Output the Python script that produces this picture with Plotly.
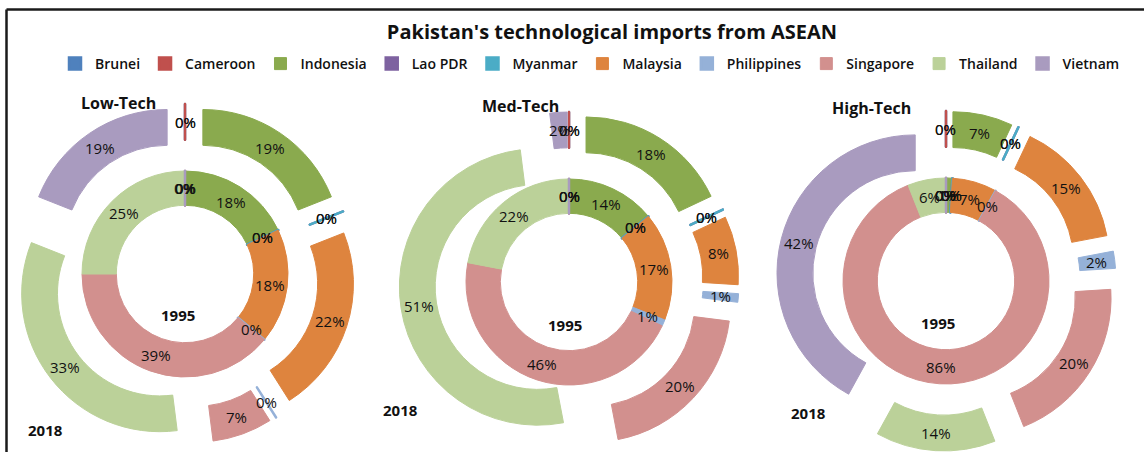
import math
import plotly.graph_objects as go

# ---------------- data ----------------
countries = ["Brunei", "Cameroon", "Indonesia", "Lao PDR", "Myanmar",
             "Malaysia", "Philippines", "Singapore", "Thailand", "Vietnam"]
low_1995 = [0, 0, 18, 0, 0, 18, 0, 39, 25, 0]
low_2018 = [0, 0, 19, 0, 0, 22, 0, 7, 33, 19]
med_1995 = [0, 0, 14, 0, 0, 17, 1, 46, 22, 0]
med_2018 = [0, 0, 18, 0, 0, 8, 1, 20, 51, 2]
high_1995 = [0, 0, 1, 0, 0, 7, 0, 86, 6, 0]
high_2018 = [0, 0, 7, 0, 0, 15, 2, 20, 14, 42]
panel_names = ["Low-Tech", "Med-Tech", "High-Tech"]
inner_year = "1995"
outer_year = "2018"
chart_title = "Pakistan's technological imports from ASEAN"

# ---------------- style ----------------
colors = ["#4F81BD", "#C0504D", "#8AAA4E", "#7E62A0", "#4BACC6",
          "#DE843E", "#95B1D8", "#D2908E", "#BBD199", "#A99BBF"]
W, H = 1144, 452
FONT = "Open Sans"
R_IN, HOLE_IN = 103, 0.667
R_TOT, PULL, HOLE_OUT = 170, 0.23, 0.741

panels = [
    dict(name=panel_names[0], inner=low_1995, outer=low_2018, c=(185, 274),
         title_xy=(118, 103), y1_xy=(178, 315), y2_xy=(45, 430)),
    dict(name=panel_names[1], inner=med_1995, outer=med_2018, c=(569, 282),
         title_xy=(520, 106), y1_xy=(565, 325), y2_xy=(400, 410)),
    dict(name=panel_names[2], inner=high_1995, outer=high_2018, c=(946, 281),
         title_xy=(872, 108), y1_xy=(938, 323), y2_xy=(808, 413)),
]


def clamp(v):
    return max(0.0, min(1.0, v))


def domain(cx, cy, s):
    return dict(x=[clamp((cx - s) / W), clamp((cx + s) / W)],
                y=[clamp(1 - (cy + s) / H), clamp(1 - (cy - s) / H)])


def px(x, y):
    return x / W, 1 - y / H


fig = go.Figure()
annotations = []


def text_at(x, y, text, size, bold=False):
    ax, ay = px(x, y)
    annotations.append(dict(x=ax, y=ay, xref="paper", yref="paper",
                            xanchor="center", yanchor="middle",
                            text=f"<b>{text}</b>" if bold else text, showarrow=False,
                            font=dict(family=FONT, size=size, color="#111111")))


def slice_labels(vals, cx, cy, rad):
    total = float(sum(vals))
    cum = 0.0
    for v in vals:
        mid = (cum + v / 2.0) / total * 2 * math.pi
        cum += v
        text_at(cx + rad * math.sin(mid), cy - rad * math.cos(mid), f"{v}%", 15)


for p in panels:
    cx, cy = p["c"]
    # inner ring (1995)
    fig.add_trace(go.Pie(
        labels=countries, values=p["inner"], sort=False, direction="clockwise",
        rotation=0, hole=HOLE_IN, textinfo="none", domain=domain(cx, cy, R_IN),
        marker=dict(colors=colors, line=dict(color=colors,
                    width=[2.5 if v == 0 else 1 for v in p["inner"]])),
        name=p["name"] + " " + inner_year, hoverinfo="label+percent"))
    # outer ring (2018), exploded
    fig.add_trace(go.Pie(
        labels=countries, values=p["outer"], sort=False, direction="clockwise",
        rotation=0, hole=HOLE_OUT, textinfo="none", pull=PULL,
        domain=domain(cx, cy, R_TOT),
        marker=dict(colors=colors, line=dict(color=colors,
                    width=[2.5 if v == 0 else 1 for v in p["outer"]])),
        name=p["name"] + " " + outer_year, hoverinfo="label+percent"))

    r_out = R_TOT / (1 + PULL)
    slice_labels(p["inner"], cx, cy, R_IN * (1 + HOLE_IN) / 2)
    slice_labels(p["outer"], cx, cy, r_out * (1 + HOLE_OUT) / 2 + PULL * r_out)

    text_at(*p["title_xy"], p["name"], 16, bold=True)
    text_at(*p["y1_xy"], inner_year, 15, bold=True)
    text_at(*p["y2_xy"], outer_year, 15, bold=True)

fig.update_layout(
    width=W, height=H, margin=dict(l=0, r=0, t=0, b=0),
    paper_bgcolor="white", plot_bgcolor="white",
    title=dict(text=f"<b>{chart_title}</b>", x=612 / W, xanchor="center",
               y=1 - 32 / H, yanchor="middle", yref="container",
               font=dict(family=FONT, size=20, color="#111111")),
    legend=dict(orientation="h", x=590 / W, xanchor="center", y=1 - 64 / H,
                yanchor="middle", bgcolor="rgba(0,0,0,0)", traceorder="normal",
                font=dict(family=FONT, size=14, color="#111111", weight=600),
                itemwidth=30),
    annotations=annotations,
    shapes=[
        dict(type="line", xref="paper", yref="paper", x0=6.5 / W, x1=1.0,
             y0=1 - 9.5 / H, y1=1 - 9.5 / H, line=dict(color="#1a1a1a", width=2.5)),
        dict(type="line", xref="paper", yref="paper", x0=6.5 / W, x1=6.5 / W,
             y0=0, y1=1 - 9.5 / H, line=dict(color="#1a1a1a", width=2.5)),
    ],
)

fig.write_html("out.html", config={"displayModeBar": False},
               post_script="document.body.style.margin='0';")
